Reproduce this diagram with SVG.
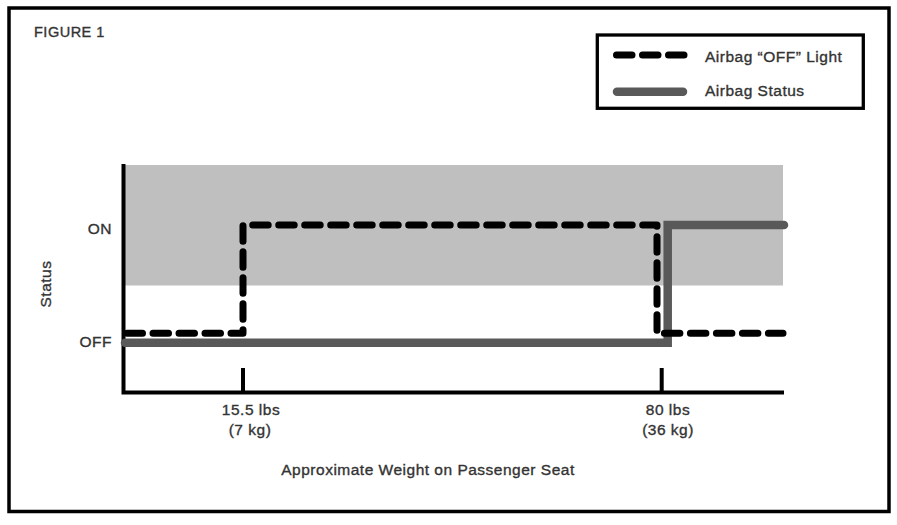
<svg xmlns="http://www.w3.org/2000/svg" width="897" height="525" viewBox="0 0 897 525">
<style>
text{font-family:"Liberation Sans",Arial,sans-serif;font-size:15.5px;letter-spacing:0.5px;fill:#333;stroke:#333;stroke-width:0.35}
.dash{fill:none;stroke:#000;stroke-width:7;stroke-linecap:round;stroke-linejoin:round;stroke-dasharray:15.5 10.5}
.stat{fill:none;stroke:#595959;stroke-width:8.5;stroke-linecap:round;stroke-linejoin:miter}
.axis{fill:none;stroke:#000;stroke-width:4}
</style>
<rect width="897" height="525" fill="#fff"/>
<rect x="9" y="8" width="880" height="503.5" fill="none" stroke="#000" stroke-width="3.5"/>
<g id="title"><text x="34" y="37" style="font-size:14.5px">FIGURE 1</text></g>
<g id="legend">
<rect x="597.3" y="35" width="266" height="73.3" fill="#fff" stroke="#000" stroke-width="3.3"/>
<path class="dash" d="M616.5,55 H684"/>
<path class="stat" d="M617,91.8 H683"/>
<text x="705" y="62">Airbag “OFF” Light</text>
<text x="705" y="96">Airbag Status</text>
</g>
<g id="plot">
<rect x="125" y="165" width="658" height="120.5" fill="#bfbfbf"/>
<text x="112" y="234" text-anchor="end">ON</text>
<text x="112" y="347" text-anchor="end">OFF</text>
<text transform="translate(51,284) rotate(-90)" text-anchor="middle">Status</text>
<text x="251" y="415" text-anchor="middle">15.5 lbs</text>
<text x="250" y="435" text-anchor="middle">(7 kg)</text>
<text x="668" y="415" text-anchor="middle">80 lbs</text>
<text x="668" y="435" text-anchor="middle">(36 kg)</text>
<text x="428" y="475" text-anchor="middle">Approximate Weight on Passenger Seat</text>
</g>
<g id="connectors">
<path class="axis" d="M123.5,164 V392.5 H784"/>
<path class="axis" d="M243,368 V392"/>
<path class="axis" d="M661.7,368 V392"/>
<path class="stat" d="M125,342.7 H667.7 V225 H784"/>
<path class="dash" d="M127,333.3 H243 V225 H657 V333.3 H783"/>
</g>
</svg>
